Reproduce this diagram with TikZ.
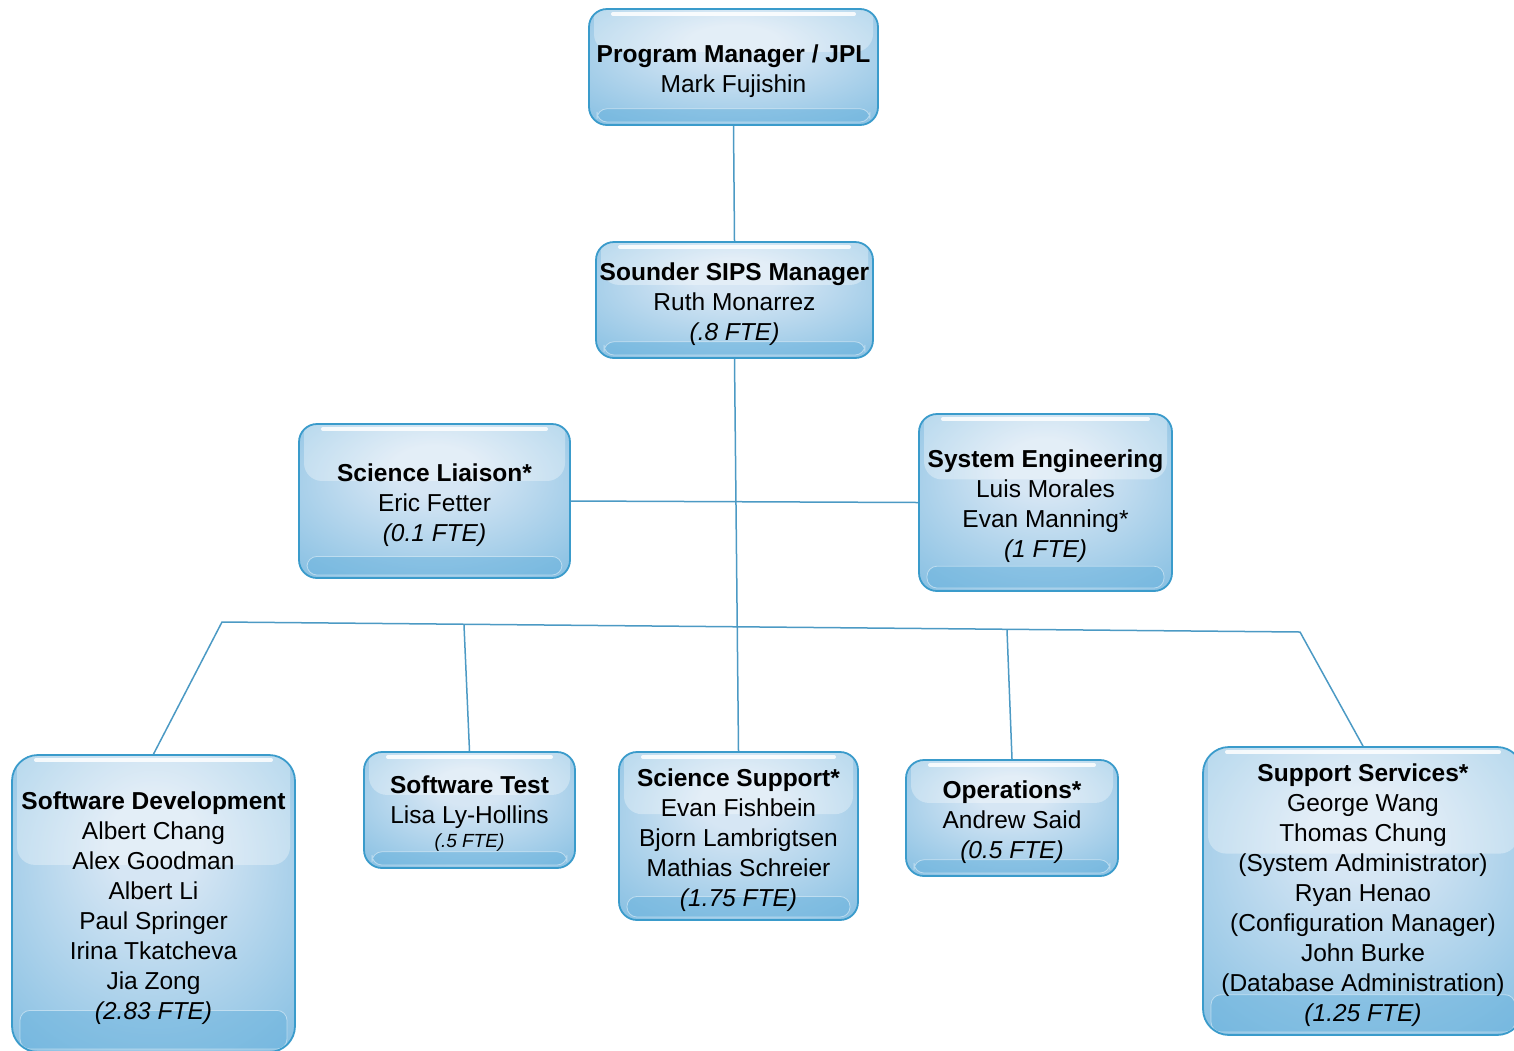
\documentclass[tikz,border=0pt]{standalone}
\usepackage{fontspec}
\setmainfont{Liberation Sans}
\usetikzlibrary{calc}
\definecolor{bord}{HTML}{3A9BCB}
\definecolor{cin}{HTML}{D6E6F4}
\definecolor{cout}{HTML}{6FB4DD}
\definecolor{band}{HTML}{5DADDB}
\definecolor{conn}{HTML}{4C9AC4}
\newcommand\ts[1]{\rule{0pt}{#1}}
\pgfdeclareradialshading{glossy}{\pgfpoint{0bp}{12bp}}{color(0bp)=(cin); color(8bp)=(cin); color(46bp)=(cout); color(50bp)=(cout)}
\tikzset{
  gbox/.style={draw=bord, line width=1.8pt, rounded corners=18pt, shading=glossy,
    align=center, inner sep=0pt, font=\fontsize{24.5}{30}\selectfont,
    path picture={
      \path[fill=white, fill opacity=0.33, rounded corners=18pt]
        let \p1=(path picture bounding box.north west), \p2=(path picture bounding box.south east),
            \n1={0.37*(\y1-\y2)} in
        (\x1+5pt,\y1+10pt) rectangle (\x2-5pt,{\y1-\n1*1pt});
      \path[draw=white, line width=4pt, line cap=round, draw opacity=0.85]
        let \p1=(path picture bounding box.north west), \p2=(path picture bounding box.south east) in
        (\x1+24pt,\y1-5pt) -- (\x2-24pt,\y1-5pt);
      \path[fill=band, fill opacity=0.42, draw=white, draw opacity=0.45, line width=0.8pt, rounded corners=10pt]
        let \p1=(path picture bounding box.north west), \p2=(path picture bounding box.south east),
            \n2={max(15,0.14*(\y1-\y2))} in
        (\x1+8pt,\y2+3pt) rectangle (\x2-8pt,{\y2+\n2*1pt});
    }},
  conn/.style={draw=conn, line width=1.5pt}
}
\begin{document}
\begin{tikzpicture}[x=1pt,y=-1pt]
\useasboundingbox (0,0) rectangle (1514,1050);
% boxes
\node[gbox, minimum width=289pt, minimum height=116pt] (pm) at (733.5,67)
  {\ts{26pt}\textbf{Program Manager / JPL}\\Mark Fujishin};
\node[gbox, minimum width=277pt, minimum height=116pt] (sips) at (734.5,300)
  {\ts{26pt}\textbf{Sounder SIPS Manager}\\Ruth Monarrez\\\textit{(.8 FTE)}};
\node[gbox, minimum width=271pt, minimum height=154pt] (sl) at (434.5,501)
  {\ts{26pt}\textbf{Science Liaison*}\\Eric Fetter\\\textit{(0.1 FTE)}};
\node[gbox, minimum width=253pt, minimum height=177pt] (se) at (1045.5,502.5)
  {\ts{26pt}\textbf{System Engineering}\\Luis Morales\\Evan Manning*\\\textit{(1 FTE)}};
\node[gbox, minimum width=283pt, minimum height=297pt, rounded corners=26pt] (swd) at (153.5,903.5)
  {\ts{28pt}\textbf{Software Development}\\Albert Chang\\Alex Goodman\\Albert Li\\Paul Springer\\Irina Tkatcheva\\Jia Zong\\\textit{(2.83 FTE)}};
\node[gbox, minimum width=211pt, minimum height=116pt] (swt) at (469.5,810)
  {\ts{25pt}\textbf{Software Test}\\Lisa Ly-Hollins\\[-6pt]{\fontsize{19}{20}\selectfont\itshape (.5 FTE)}};
\node[gbox, minimum width=239pt, minimum height=168pt] (scs) at (738.5,836)
  {\ts{26pt}\textbf{Science Support*}\\Evan Fishbein\\Bjorn Lambrigtsen\\Mathias Schreier\\\textit{(1.75 FTE)}};
\node[gbox, minimum width=212pt, minimum height=116pt] (ops) at (1012,818)
  {\ts{26pt}\textbf{Operations*}\\Andrew Said\\\textit{(0.5 FTE)}};
\node[gbox, minimum width=320pt, minimum height=288pt, rounded corners=26pt] (sup) at (1363,891)
  {\ts{26pt}\textbf{Support Services*}\\George Wang\\Thomas Chung\\(System Administrator)\\Ryan Henao\\(Configuration Manager)\\John Burke\\(Database Administration)\\\textit{(1.25 FTE)}};
% bus coordinates
\coordinate (b1) at (222,622);
\coordinate (b2) at (464,625);
\coordinate (b3) at (1007,630);
\coordinate (b4) at (1300,632);
% connectors
\draw[conn] (pm.south) -- (sips.north);
\draw[conn] (sips.south) -- (scs.north);
\draw[conn] (sl.east) -- (se.west);
\draw[conn] (swd.north) -- (b1) -- (b4) -- (sup.north);
\draw[conn] (b2) -- (swt.north);
\draw[conn] (b3) -- (ops.north);
\end{tikzpicture}
\end{document}
